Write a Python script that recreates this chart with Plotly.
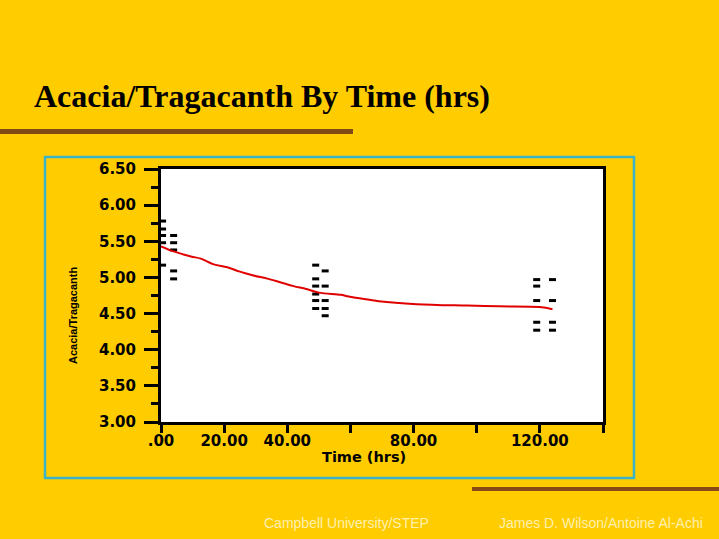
import plotly.graph_objects as go

# ---- data ----
time_pts = [0.5, 0.5, 0.5, 0.5, 0.5,
            4.0, 4.0, 4.0, 4.0, 4.0,
            49.0, 49.0, 49.0, 49.0, 49.0, 49.0,
            52.0, 52.0, 52.0, 52.0, 52.0,
            119.0, 119.0, 119.0, 119.0, 119.0,
            124.0, 124.0, 124.0, 124.0]
ratio_pts = [5.78, 5.67, 5.58, 5.48, 5.17,
             5.58, 5.48, 5.38, 5.09, 4.98,
             5.17, 4.98, 4.88, 4.77, 4.68, 4.57,
             5.09, 4.88, 4.68, 4.57, 4.47,
             4.97, 4.88, 4.68, 4.38, 4.27,
             4.97, 4.68, 4.38, 4.27]

fit_time = [0, 4, 9.5, 12.6, 16.7, 21, 25, 29, 34, 38, 42, 46, 50, 57, 59, 66, 69, 81, 97, 107, 120, 124]
fit_ratio = [5.43, 5.36, 5.29, 5.26, 5.18, 5.14, 5.08, 5.03, 4.98, 4.93, 4.88, 4.84, 4.79, 4.76, 4.74,
             4.69, 4.67, 4.63, 4.61, 4.60, 4.59, 4.56]

x_tickvals = [0, 20, 40, 60, 80, 100, 120, 140]
x_ticktext = [".00", "20.00", "40.00", "", "80.00", "", "120.00", ""]
y_tickvals = [3.0, 3.5, 4.0, 4.5, 5.0, 5.5, 6.0, 6.5]

W, H = 719, 539
BG = "#FFCC00"

def px_x(v):
    return v / W

def px_y(v):
    return 1 - v / H

fig = go.Figure()
fig.add_trace(go.Scatter(
    x=time_pts, y=ratio_pts, mode="markers",
    marker=dict(symbol="line-ew", size=5, color="black",
                line=dict(width=3, color="black")),
    showlegend=False, hoverinfo="skip"))
fig.add_trace(go.Scatter(
    x=fit_time, y=fit_ratio, mode="lines", line=dict(color="#E00000", width=2, shape="spline"),
    showlegend=False, hoverinfo="skip"))

tick_font = dict(family="DejaVu Sans", size=15, color="black", weight="bold")

fig.update_layout(
    template="none",
    width=W, height=H, autosize=False,
    paper_bgcolor=BG, plot_bgcolor="white",
    margin=dict(l=0, r=0, t=0, b=0, pad=0, autoexpand=False),
    showlegend=False,
    xaxis=dict(domain=[px_x(161), px_x(603)], range=[0, 140], automargin=False,
               tickvals=x_tickvals, ticktext=x_ticktext,
               showgrid=False, zeroline=False,
               showline=True, linewidth=3, linecolor="black", mirror=True,
               ticks="outside", ticklen=8, tickwidth=3, tickcolor="black",
               ticklabelstandoff=-5,
               tickfont=tick_font),
    yaxis=dict(domain=[px_y(422), px_y(169)], range=[3.0, 6.5], automargin=False,
               tickvals=y_tickvals, tickformat=".2f",
               showgrid=False, zeroline=False,
               showline=True, linewidth=3, linecolor="black", mirror=True,
               ticks="outside", ticklen=14, tickwidth=3, tickcolor="black",
               ticklabelstandoff=5,
               minor=dict(dtick=0.25, ticks="outside", ticklen=7, tickwidth=3, tickcolor="black", showgrid=False),
               tickfont=tick_font),
)

shapes = [
    # cyan frame
    dict(type="rect", xref="paper", yref="paper",
         x0=px_x(45), x1=px_x(634), y0=px_y(478), y1=px_y(157),
         line=dict(color="#3CB4C8", width=2.5), fillcolor="rgba(0,0,0,0)", layer="below"),
    # decorative bars
    dict(type="rect", xref="paper", yref="paper",
         x0=px_x(0), x1=px_x(353), y0=px_y(134), y1=px_y(129),
         line=dict(width=0), fillcolor="#7E4A16"),
    dict(type="rect", xref="paper", yref="paper",
         x0=px_x(472), x1=px_x(719), y0=px_y(491), y1=px_y(487),
         line=dict(width=0), fillcolor="#8A4A16"),
]
fig.update_layout(shapes=shapes)

annotations = [
    dict(text="<b>Acacia/Tragacanth By Time (hrs)</b>", xref="paper", yref="paper",
         x=px_x(32), y=px_y(96), xanchor="left", yanchor="middle", showarrow=False,
         font=dict(family="Liberation Serif, Times New Roman", size=32, color="black")),
    dict(text="Time (hrs)", xref="paper", yref="paper",
         x=px_x(364), y=px_y(457), xanchor="center", yanchor="middle", showarrow=False,
         font=dict(family="DejaVu Sans", size=14.5, color="black", weight="bold")),
    dict(text="Acacia/Tragacanth", xref="paper", yref="paper",
         x=px_x(73), y=px_y(316), xanchor="center", yanchor="middle", showarrow=False,
         textangle=-90,
         font=dict(family="Liberation Sans Narrow, Liberation Sans, Arial", size=11, color="black", weight="bold")),
    dict(text="Campbell University/STEP", xref="paper", yref="paper",
         x=px_x(262), y=px_y(523), xanchor="left", yanchor="middle", showarrow=False,
         font=dict(family="Liberation Sans, Arial", size=14, color="#FFF0B0")),
    dict(text="James D. Wilson/Antoine Al-Achi", xref="paper", yref="paper",
         x=px_x(497), y=px_y(523), xanchor="left", yanchor="middle", showarrow=False,
         font=dict(family="Liberation Sans, Arial", size=14, color="#FFF0B0")),
]
fig.update_layout(annotations=annotations)

fig.write_html("out.html", config={"displayModeBar": False},
               post_script="document.body.style.margin='0';document.body.style.padding='0';document.body.style.overflow='hidden';")
